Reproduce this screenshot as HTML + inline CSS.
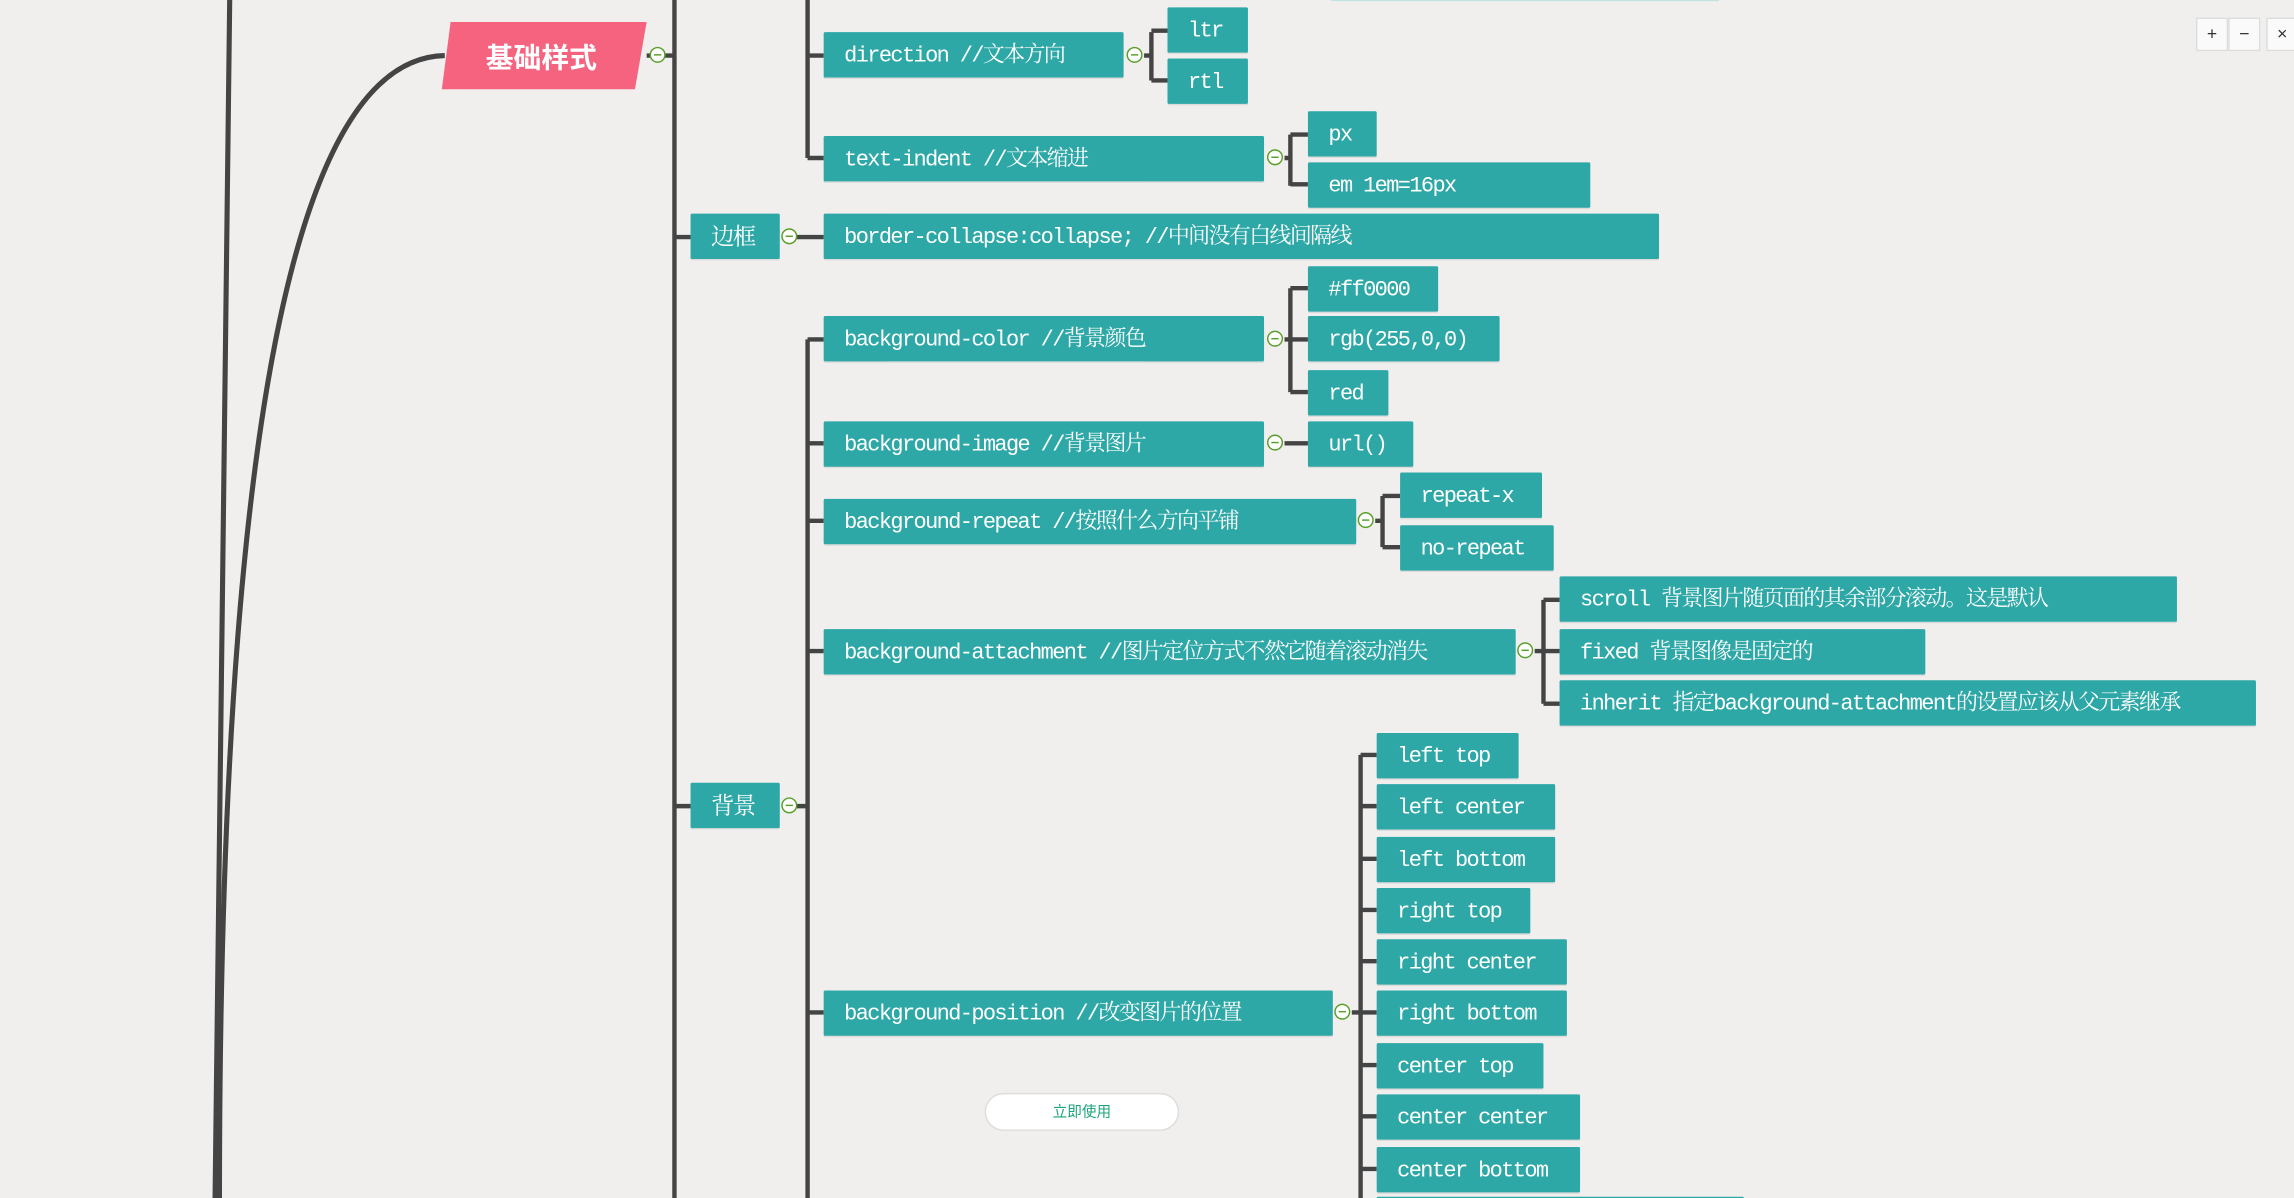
<!DOCTYPE html>
<html><head><meta charset="utf-8"><style>
html,body{margin:0;padding:0;width:2294px;height:1198px;overflow:hidden;background:#f0efee;}
#c{position:absolute;left:0;top:0;width:1568px;height:819px;overflow:hidden;transform:scale(1.46301);transform-origin:0 0;}
.n{position:absolute;background:#2ea8a7;color:#fff;font-family:"Liberation Mono","Noto Serif CJK SC",monospace;font-size:15px;letter-spacing:-1.1px;line-height:34px;height:31px;padding-left:14px;box-sizing:border-box;white-space:nowrap;overflow:hidden;border-radius:1px;box-shadow:0 1px 0 rgba(0,0,0,.08);}
.c{position:absolute;width:11px;height:11px;border:1.3px solid #5a9f2a;border-radius:50%;background:#fff;box-sizing:border-box;}
.c:after{content:"";position:absolute;left:2px;right:2px;top:4px;height:1.3px;background:#5a9f2a;}
svg{position:absolute;left:0;top:0;}
.btn{position:absolute;left:673px;top:747px;width:133px;height:26px;border:1px solid #ddd;border-radius:14px;background:#fff;color:#1aa57a;font-family:"Liberation Sans","Noto Sans CJK SC",sans-serif;font-size:10px;line-height:26px;text-align:center;box-sizing:border-box;}
.ctl{position:absolute;top:12px;width:22px;height:23px;background:#fafafa;border:1px solid #ddd;box-sizing:border-box;font-family:"Liberation Sans",sans-serif;font-size:12px;text-align:center;line-height:21px;color:#333;}
</style></head><body><div id="c">
<svg width="1568" height="819" fill="none" stroke="#444" stroke-width="3.5">
<path d="M157 0 L147 819"/>
<path d="M304 38 C200 40 150 300 150 819"/>
<path d="M461 0 V819" stroke-width="3"/>
<path d="M442 38 H461" stroke-width="3"/>
<path d="M552 0 V108 M552 38 H563 M552 108 H563" stroke-width="3"/>
<path d="M461 162 H472 M540 162 H563 M461 551 H472 M540 551 H552" stroke-width="3"/>
<path d="M552 232 V819 M552 232 H563 M552 303 H563 M552 356 H563 M552 445 H563 M552 692 H563" stroke-width="3"/>
<path d="M782 38 H787 M787 22 V55 M787 21 H798 M787 55 H798" stroke-width="3"/>
<path d="M878 108 H882 M882 92 V127 M882 92 H894 M882 126 H894" stroke-width="3"/>
<path d="M878 232 H894 M882 197 V268 M882 197 H894 M882 268 H894" stroke-width="3"/>
<path d="M878 303 H894" stroke-width="3"/>
<path d="M940 356 H945 M945 339 V374 M945 339 H957 M945 374 H957" stroke-width="3"/>
<path d="M1049 445 H1066 M1055 410 V481 M1055 410 H1066 M1055 481 H1066" stroke-width="3"/>
<path d="M924 692 H930 M930 516 V819 M930 516 H941 M930 551 H941 M930 587 H941 M930 622 H941 M930 657 H941 M930 692 H941 M930 728 H941 M930 763 H941 M930 799 H941" stroke-width="3"/>
<path d="M910 0 H1175" stroke="#bfe3e2" stroke-width="1.5"/>
<polygon points="308,15 442,15 434,61 302,61" fill="#f5637f" stroke="none"/>
<text x="370" y="46" fill="#fff" stroke="none" font-family="Liberation Sans,Noto Sans CJK SC,sans-serif" font-size="19" font-weight="bold" text-anchor="middle">基础样式</text>
</svg>
<div class="c" style="left:444px;top:32px"></div>
<div class="n" style="left:563px;top:22px;width:205px">direction //文本方向</div>
<div class="c" style="left:770px;top:32px"></div>
<div class="n" style="left:798px;top:5px;width:55px">ltr</div>
<div class="n" style="left:798px;top:40px;width:55px">rtl</div>
<div class="n" style="left:563px;top:93px;width:301px">text-indent  //文本缩进</div>
<div class="c" style="left:866px;top:102px"></div>
<div class="n" style="left:894px;top:76px;width:47px">px</div>
<div class="n" style="left:894px;top:111px;width:193px">em 1em=16px</div>
<div class="n" style="left:472px;top:146px;width:61px;font-size:16px">边框</div>
<div class="c" style="left:534px;top:156px"></div>
<div class="n" style="left:563px;top:146px;width:571px">border-collapse:collapse;  //中间没有白线间隔线</div>
<div class="n" style="left:472px;top:535px;width:61px;font-size:16px">背景</div>
<div class="c" style="left:534px;top:545px"></div>
<div class="n" style="left:563px;top:216px;width:301px">background-color //背景颜色</div>
<div class="c" style="left:866px;top:226px"></div>
<div class="n" style="left:894px;top:182px;width:89px">#ff0000</div>
<div class="n" style="left:894px;top:216px;width:131px">rgb(255,0,0)</div>
<div class="n" style="left:894px;top:253px;width:55px">red</div>
<div class="n" style="left:563px;top:288px;width:301px">background-image //背景图片</div>
<div class="c" style="left:866px;top:297px"></div>
<div class="n" style="left:894px;top:288px;width:72px">url()</div>
<div class="n" style="left:563px;top:341px;width:364px">background-repeat //按照什么方向平铺</div>
<div class="c" style="left:928px;top:350px"></div>
<div class="n" style="left:957px;top:323px;width:97px">repeat-x</div>
<div class="n" style="left:957px;top:359px;width:105px">no-repeat</div>
<div class="n" style="left:563px;top:430px;width:473px">background-attachment //图片定位方式不然它随着滚动消失</div>
<div class="c" style="left:1037px;top:439px"></div>
<div class="n" style="left:1066px;top:394px;width:422px">scroll 背景图片随页面的其余部分滚动。这是默认</div>
<div class="n" style="left:1066px;top:430px;width:250px">fixed 背景图像是固定的</div>
<div class="n" style="left:1066px;top:465px;width:476px">inherit 指定background-attachment的设置应该从父元素继承</div>
<div class="n" style="left:563px;top:677px;width:348px">background-position //改变图片的位置</div>
<div class="c" style="left:912px;top:686px"></div>
<div class="n" style="left:941px;top:501px;width:97px">left top</div>
<div class="n" style="left:941px;top:536px;width:122px">left center</div>
<div class="n" style="left:941px;top:572px;width:122px">left bottom</div>
<div class="n" style="left:941px;top:607px;width:105px">right top</div>
<div class="n" style="left:941px;top:642px;width:130px">right center</div>
<div class="n" style="left:941px;top:677px;width:130px">right bottom</div>
<div class="n" style="left:941px;top:713px;width:114px">center top</div>
<div class="n" style="left:941px;top:748px;width:139px">center center</div>
<div class="n" style="left:941px;top:784px;width:139px">center bottom</div>
<div class="n" style="left:941px;top:818px;width:251px"></div>
<div class="btn">立即使用</div>
<div class="ctl" style="left:1501px">+</div>
<div class="ctl" style="left:1523px">−</div>
<div class="ctl" style="left:1549px">×</div>
</div></body></html>
